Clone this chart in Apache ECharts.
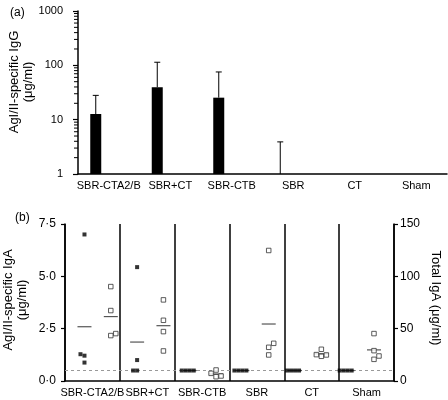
<!DOCTYPE html>
<html><head><meta charset="utf-8">
<script src="https://cdn.jsdelivr.net/npm/echarts@6/dist/echarts.min.js"></script>
<style>html,body{margin:0;padding:0;background:#fff}#c{width:448px;height:400px}</style>
</head><body><div id="c"></div>
<script>
// ---- data ----
const groups = ['SBR-CTA2/B', 'SBR+CT', 'SBR-CTB', 'SBR', 'CT', 'Sham'];
// (a) AgI/II-specific IgG, mean and upper error limit (µg/ml)
const iggMean  = [12.7, 39.5, 25.4, 1, null, null];
const iggUpper = [28, 114, 75.5, 3.9, null, null];
const iggMinorTicks = [2,3,4,5,6,7,8,9,20,30,40,50,60,70,80,90,200,300,400,500,600,700,800,900];
// (b) AgI/II-specific IgA (µg/ml), filled squares, left axis
const igaSpecific = [
  [7.0, 1.21, 0.88, 1.28],
  [5.44, 1.0, 0.5, 0.5],
  [0.5, 0.5, 0.5, 0.5],
  [0.5, 0.5, 0.5, 0.5],
  [0.5, 0.5, 0.5, 0.5],
  [0.5, 0.5, 0.5, 0.5]
];
// (b) Total IgA (µg/ml), open squares, right axis
const totalIga = [
  [90.2, 67.3, 43.4, 45.3],
  [77.5, 58, 47.2, 28.7],
  [10.5, 4.1, 4.8, 7.3],
  [124.7, 32.2, 24.9, 36],
  [30.3, 23.6, 24.9, 25.2],
  [45.3, 29, 20.7, 23.9]
];
const detectionLimit = 0.5;
const igaTickLabels = {0: '0·0', 2.5: '2·5', 5: '5·0', 7.5: '7·5'};

// ---- layout helpers ----
const FONT = 'Liberation Sans, Arial, Helvetica, sans-serif';
const G1 = {left: 65, right: 54, top: 224, bottom: 19};
const plotH = 400 - G1.top - G1.bottom;
const pxPerLeft = plotH / 7.5, pxPerRight = plotH / 150;
const BLACK_POS = 0.37, OPEN_POS = 0.87;

function jitter(vals, pxPer, step, dir) {
  const placed = [], offs = [];
  const cands = [0, dir * step, -dir * step, dir * 2 * step, -dir * 2 * step, dir * 3 * step];
  vals.forEach(v => {
    const y = v * pxPer;
    let off = 0;
    for (const c of cands) {
      if (!placed.some(p => Math.abs(p.y - y) < 5 && Math.abs(p.x - c) < step * 0.9)) { off = c; break; }
    }
    placed.push({x: off, y}); offs.push(off);
  });
  return offs;
}

const blackData = [], openData = [], blackMeans = [], openMeans = [];
groups.forEach((g, i) => {
  const jb = jitter(igaSpecific[i], pxPerLeft, 4, -1);
  igaSpecific[i].forEach((v, k) => blackData.push({value: [i + BLACK_POS, v], symbolOffset: [jb[k], 0]}));
  const jo = jitter(totalIga[i], pxPerRight, 5, 1);
  totalIga[i].forEach((v, k) => openData.push({value: [i + OPEN_POS, v], symbolOffset: [jo[k], 0]}));
  const mean = a => a.reduce((s, x) => s + x, 0) / a.length;
  blackMeans.push([i + BLACK_POS, mean(igaSpecific[i])]);
  openMeans.push([i + OPEN_POS, mean(totalIga[i])]);
});

const barData = [], errData = [];
iggMean.forEach((v, i) => {
  if (v != null) barData.push([i, v]);
  if (iggUpper[i] != null) errData.push([i, v, iggUpper[i]]);
});

const BAR_SHIFT = -13, BAR_W = 11;

const chart = echarts.init(document.getElementById('c'), null, {renderer: 'canvas'});
const meanLine = (params, api) => {
  const p = api.coord([api.value(0), api.value(1)]);
  return {type: 'line', shape: {x1: p[0] - 7, y1: p[1], x2: p[0] + 7, y2: p[1]},
          style: {stroke: '#555', lineWidth: 1.2}};
};

chart.setOption({
  animation: false,
  backgroundColor: '#fff',
  textStyle: {fontFamily: FONT, color: '#000'},
  grid: [
    {left: 78, right: 1, top: 11, bottom: 226},
    G1
  ],
  xAxis: [
    {gridIndex: 0, type: 'category', data: groups,
     axisLine: {lineStyle: {color: '#000', width: 1.5}}, axisTick: {show: false},
     axisLabel: {interval: 0, color: '#000', fontSize: 11, fontFamily: FONT, margin: 6},
     splitLine: {show: false}},
    {gridIndex: 1, type: 'category', data: groups,
     axisLine: {lineStyle: {color: '#000', width: 1.5}}, axisTick: {show: false},
     axisLabel: {interval: 0, color: '#000', fontSize: 11, fontFamily: FONT, margin: 6},
     splitLine: {show: true, interval: 0, lineStyle: {color: '#000', width: 1.5}}},
    {gridIndex: 1, type: 'value', min: 0, max: 6.25, show: false}
  ],
  yAxis: [
    {gridIndex: 0, type: 'log', logBase: 10, min: 1, max: 1000, splitNumber: 3,
     axisLine: {show: true, lineStyle: {color: '#000', width: 1.5}},
     axisTick: {show: true, length: 5, lineStyle: {color: '#000', width: 1.2}},
     axisLabel: {color: '#000', fontSize: 11, fontFamily: FONT, margin: 15, formatter: v => String(v)},
     splitLine: {show: false}},
    {gridIndex: 1, type: 'value', min: 0, max: 7.5, interval: 2.5,
     axisLine: {show: true, lineStyle: {color: '#000', width: 1.5}},
     axisTick: {show: true, length: 4, lineStyle: {color: '#000', width: 1.2}},
     axisLabel: {color: '#000', fontSize: 12, fontFamily: FONT, margin: 9,
                 formatter: v => igaTickLabels[v] ?? String(v)},
     splitLine: {show: false}},
    {gridIndex: 1, type: 'value', position: 'right', min: 0, max: 150, interval: 50,
     axisLine: {show: true, lineStyle: {color: '#000', width: 1.5}},
     axisTick: {show: true, length: 4, lineStyle: {color: '#000', width: 1.2}},
     axisLabel: {color: '#000', fontSize: 12, fontFamily: FONT, margin: 6},
     splitLine: {show: false}}
  ],
  series: [
    {type: 'custom', name: 'IgG', xAxisIndex: 0, yAxisIndex: 0, data: barData, clip: false,
     renderItem: (params, api) => {
       const top = api.coord([api.value(0), api.value(1)]);
       const base = api.coord([api.value(0), 1]);
       return {type: 'rect', shape: {x: top[0] + BAR_SHIFT - BAR_W / 2, y: top[1], width: BAR_W, height: base[1] - top[1]},
               style: {fill: '#000'}};
     }},
    {type: 'custom', name: 'IgG error', xAxisIndex: 0, yAxisIndex: 0, data: errData, clip: false,
     encode: {x: 0, y: [1, 2]},
     renderItem: (params, api) => {
       const lo = api.coord([api.value(0), api.value(1)]);
       const hi = api.coord([api.value(0), api.value(2)]);
       const x = hi[0] + BAR_SHIFT;
       return {type: 'group', children: [
         {type: 'line', shape: {x1: x, y1: lo[1], x2: x, y2: hi[1]}, style: {stroke: '#000', lineWidth: 1}},
         {type: 'line', shape: {x1: x - 3, y1: hi[1], x2: x + 3, y2: hi[1]}, style: {stroke: '#000', lineWidth: 1}}
       ]};
     }},
    {type: 'custom', name: 'minor ticks', xAxisIndex: 0, yAxisIndex: 0, clip: false, silent: true, z: 5,
     encode: {x: 0, y: 1},
     data: iggMinorTicks.map(v => [0, v]),
     renderItem: (params, api) => {
       const p = api.coord([api.value(0), api.value(1)]);
       const band = api.size([1, 0])[0];
       const x = p[0] - band / 2;
       return {type: 'line', shape: {x1: x - 4, y1: p[1], x2: x, y2: p[1]},
               style: {stroke: '#000', lineWidth: 1}};
     }},
    {type: 'scatter', name: 'AgI/II-specific IgA', xAxisIndex: 2, yAxisIndex: 1, data: blackData,
     symbol: 'rect', symbolSize: 4, itemStyle: {color: '#000'}, z: 4,
     markLine: {silent: true, symbol: ['none', 'none'], label: {show: false},
                lineStyle: {color: '#999', type: [3, 3], width: 1}, data: [{yAxis: detectionLimit}], z: 1}},
    {type: 'scatter', name: 'Total IgA', xAxisIndex: 2, yAxisIndex: 2, data: openData,
     symbol: 'rect', symbolSize: 4.5, itemStyle: {color: '#fff', borderColor: '#333', borderWidth: 1}, z: 4},
    {type: 'custom', name: 'IgA mean', xAxisIndex: 2, yAxisIndex: 1, data: blackMeans, renderItem: meanLine, z: 3},
    {type: 'custom', name: 'Total IgA mean', xAxisIndex: 2, yAxisIndex: 2, data: openMeans, renderItem: meanLine, z: 3}
  ],
  graphic: [
    {type: 'text', x: 10, y: 13, style: {text: '(a)', font: '12px ' + FONT, fill: '#000', textVerticalAlign: 'middle'}},
    {type: 'text', x: 15, y: 218, style: {text: '(b)', font: '12px ' + FONT, fill: '#000', textVerticalAlign: 'middle'}},
    {type: 'text', x: 21, y: 82, rotation: Math.PI / 2,
     style: {text: 'AgI/II-specific IgG\n(μg/ml)', font: '13px ' + FONT, fill: '#000', textAlign: 'center', textVerticalAlign: 'middle', lineHeight: 14}},
    {type: 'text', x: 15, y: 300, rotation: Math.PI / 2,
     style: {text: 'AgI/II-specific IgA\n(μg/ml)', font: '13px ' + FONT, fill: '#000', textAlign: 'center', textVerticalAlign: 'middle', lineHeight: 14}},
    {type: 'text', x: 436, y: 298, rotation: -Math.PI / 2,
     style: {text: 'Total IgA (μg/ml)', font: '13px ' + FONT, fill: '#000', textAlign: 'center', textVerticalAlign: 'middle'}}
  ]
});
</script>
</body></html>
